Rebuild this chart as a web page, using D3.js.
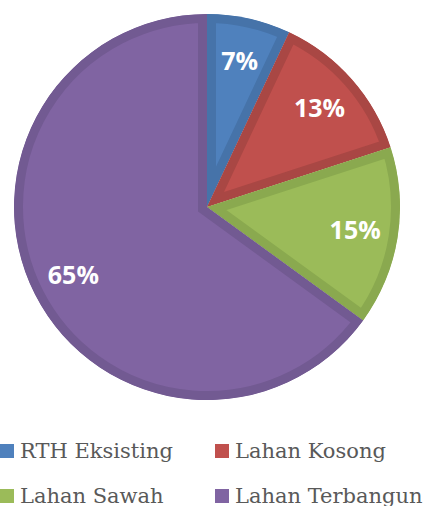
<!DOCTYPE html>
<html>
<head>
<meta charset="utf-8">
<script src="https://cdn.jsdelivr.net/npm/d3@7"></script>
<style>
  body { margin: 0; background: #fff; }
  svg { display: block; }
</style>
</head>
<body>
<div id="chart"></div>
<script>
// data
const categories = ["RTH Eksisting", "Lahan Kosong", "Lahan Sawah", "Lahan Terbangun"];
const values = [7, 13, 15, 65];
const fills = ["#4f81bd", "#c0504d", "#9bbb59", "#8064a2"];
const borders = ["#4673a9", "#a94744", "#8aa94f", "#725a92"];

const width = 433, height = 506;
const cx = 207, cy = 207, radius = 193;

const svg = d3.select("#chart").append("svg")
  .attr("width", width)
  .attr("height", height);

const pie = d3.pie().sort(null).value(d => d.value);
const arcs = pie(categories.map((c, i) => ({ name: c, value: values[i], i: i })));

const arc = d3.arc().innerRadius(0).outerRadius(radius);
const labelArc = d3.arc().innerRadius(150).outerRadius(150);

const g = svg.append("g").attr("transform", `translate(${cx},${cy})`);
const defs = svg.append("defs");

defs.selectAll("clipPath")
  .data(arcs)
  .enter().append("clipPath")
    .attr("id", d => "slice" + d.data.i)
  .append("path")
    .attr("d", arc);

g.selectAll("path.slice")
  .data(arcs)
  .enter().append("path")
    .attr("class", "slice")
    .attr("d", arc)
    .attr("fill", d => fills[d.data.i])
    .attr("stroke", d => borders[d.data.i])
    .attr("stroke-width", 18)
    .attr("stroke-linejoin", "miter")
    .attr("clip-path", d => `url(#slice${d.data.i})`);

g.selectAll("text.label")
  .data(arcs)
  .enter().append("text")
    .attr("class", "label")
    .attr("transform", d => `translate(${labelArc.centroid(d)})`)
    .attr("text-anchor", "middle")
    .attr("dy", "0.36em")
    .attr("fill", "#fff")
    .style("font-family", "'Open Sans', sans-serif")
    .style("font-weight", "bold")
    .style("font-size", "25px")
    .text(d => d.data.value + "%");

// legend, two columns
const legend = svg.append("g").attr("class", "legend");
const colX = d3.scaleOrdinal().domain([0, 1]).range([0, 215]);
const rowY = d3.scaleOrdinal().domain([0, 1]).range([444, 489]);

const item = legend.selectAll("g")
  .data(categories)
  .enter().append("g")
    .attr("transform", (d, i) => `translate(${colX(i % 2)},${rowY(Math.floor(i / 2))})`);

item.append("rect")
  .attr("width", 14)
  .attr("height", 14)
  .attr("fill", (d, i) => fills[i]);

item.append("text")
  .attr("x", 20)
  .attr("y", 14)
  .attr("fill", "#595959")
  .style("font-family", "'DejaVu Serif', serif")
  .style("font-size", "21px")
  .text(d => d);
</script>
</body>
</html>
